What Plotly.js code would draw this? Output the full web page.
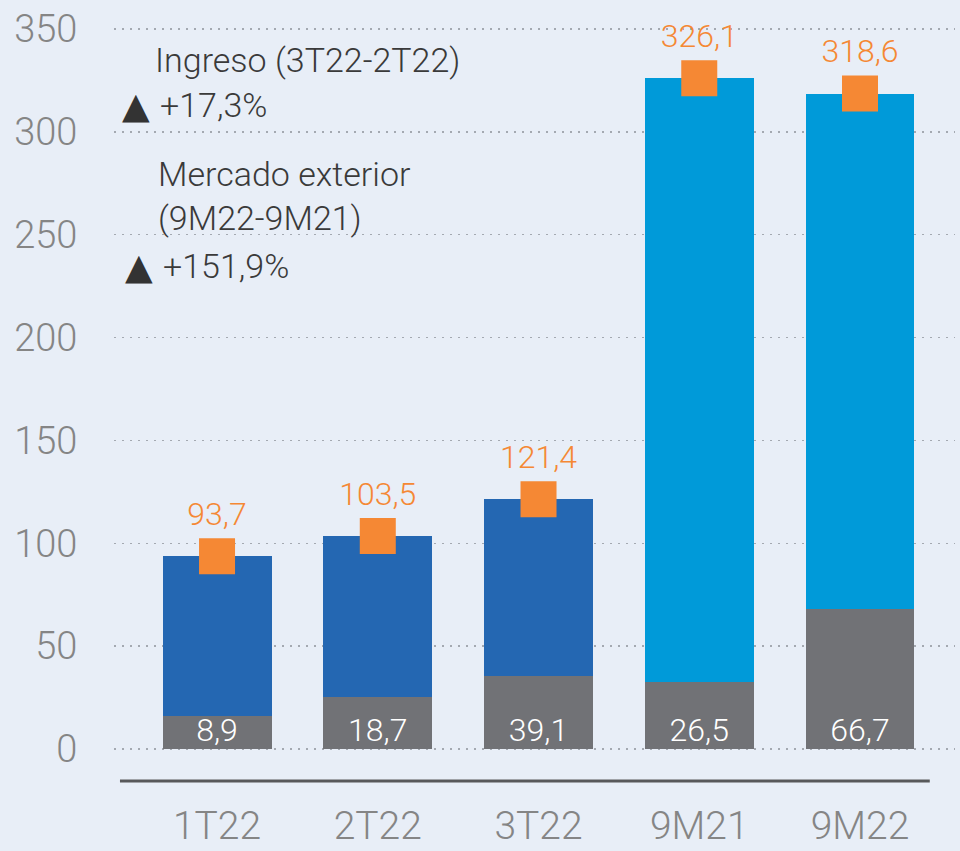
<!DOCTYPE html>
<html>
<head>
<meta charset="utf-8">
<script src="https://cdn.plot.ly/plotly-3.0.1.min.js"></script>
<style>
  html, body { margin: 0; padding: 0; background: #e8eef7; }
  #chart { width: 960px; height: 851px; }
</style>
</head>
<body>
<div id="chart"></div>
<script>
// ---- data ----
const categories = ['1T22', '2T22', '3T22', '9M21', '9M22'];
const totalValues = [93.7, 103.5, 121.4, 326.1, 318.6];
const exteriorValues = [8.9, 18.7, 39.1, 26.5, 66.7];
// heights of the grey segments as drawn in the picture
const exteriorBarHeights = [16, 25.3, 35.5, 32.7, 68];
const yTickValues = [0, 50, 100, 150, 200, 250, 300, 350];

// ---- styles ----
const FONT = 'Roboto, "Liberation Sans", Arial, sans-serif';
const darkBlue = '#2467b2';
const lightBlue = '#009ad9';
const grey = '#717276';
const orange = '#f58834';
const bg = '#e8eef7';

const fmt = v => v.toFixed(1).replace('.', ',');
const restHeights = totalValues.map((t, i) => t - exteriorBarHeights[i]);
const restColors = categories.map(c => c.startsWith('9M') ? lightBlue : darkBlue);

const traces = [
  {
    type: 'bar', x: categories, y: exteriorBarHeights,
    marker: { color: grey }, width: 0.678, hoverinfo: 'skip'
  },
  {
    type: 'bar', x: categories, y: restHeights,
    marker: { color: restColors }, width: 0.678, hoverinfo: 'skip'
  },
  {
    type: 'scatter', mode: 'text', x: categories, y: exteriorValues.map(() => 0),
    text: exteriorValues.map(fmt), textposition: 'top center',
    textfont: { family: FONT, size: 32, color: '#ffffff', weight: 300 },
    hoverinfo: 'skip', cliponaxis: false
  },
  {
    type: 'scatter', mode: 'markers+text', x: categories, y: totalValues,
    text: totalValues.map(fmt), textposition: 'top center',
    marker: { symbol: 'square', size: 36, color: orange },
    textfont: { family: FONT, size: 32, color: orange, weight: 300 },
    hoverinfo: 'skip', cliponaxis: false
  }
];

const annFont = { family: FONT, size: 34, color: '#3a3a3a', weight: 300 };
const triFont = { family: '"DejaVu Sans", sans-serif', size: 36, color: '#333333' };

const layout = {
  width: 960, height: 851,
  paper_bgcolor: bg, plot_bgcolor: bg,
  margin: { l: 114, r: 5, t: 15, b: 70 },
  barmode: 'stack', showlegend: false,
  font: { family: FONT },
  xaxis: {
    type: 'category', range: [-0.641, 4.591],
    showgrid: false, zeroline: false, showline: false,
    ticks: 'outside', ticklen: 10, tickcolor: 'rgba(0,0,0,0)',
    tickfont: { family: FONT, size: 39, color: '#858585', weight: 300 },
    fixedrange: true
  },
  yaxis: {
    range: [-15.56, 356.8],
    tickvals: yTickValues, ticktext: yTickValues.map(String),
    showgrid: true, gridcolor: '#a4a9b1', griddash: '2px,6px', gridwidth: 1.5,
    zeroline: false, showline: false,
    ticks: 'outside', ticklen: 28, tickcolor: 'rgba(0,0,0,0)',
    tickfont: { family: FONT, size: 38, color: '#858585', weight: 300 },
    fixedrange: true
  },
  shapes: [
    { type: 'line', xref: 'paper', yref: 'paper', x0: 0.0071, x1: 0.970, y0: 0, y1: 0,
      line: { color: '#58595b', width: 3 } }
  ],
  annotations: [
    { xref: 'paper', yref: 'paper', x: 0.0464, y: 0.941, xanchor: 'left', yanchor: 'middle',
      text: 'Ingreso (3T22-2T22)', showarrow: false, font: annFont, align: 'left' },
    { xref: 'paper', yref: 'paper', x: 0.0071, y: 0.8825, xanchor: 'left', yanchor: 'middle',
      text: '▲', showarrow: false, font: triFont },
    { xref: 'paper', yref: 'paper', x: 0.0523, y: 0.8825, xanchor: 'left', yanchor: 'middle',
      text: '+17,3%', showarrow: false, font: annFont },
    { xref: 'paper', yref: 'paper', x: 0.0499, y: 0.764, xanchor: 'left', yanchor: 'middle',
      text: 'Mercado exterior<br>(9M22-9M21)', showarrow: false, font: annFont, align: 'left' },
    { xref: 'paper', yref: 'paper', x: 0.0107, y: 0.6723, xanchor: 'left', yanchor: 'middle',
      text: '▲', showarrow: false, font: triFont },
    { xref: 'paper', yref: 'paper', x: 0.0559, y: 0.6723, xanchor: 'left', yanchor: 'middle',
      text: '+151,9%', showarrow: false, font: annFont }
  ]
};

Plotly.newPlot('chart', traces, layout, { displayModeBar: false, staticPlot: true });
</script>
</body>
</html>
